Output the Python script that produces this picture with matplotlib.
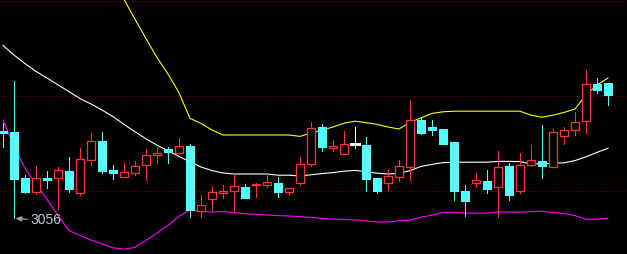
import matplotlib
matplotlib.use("Agg")
import matplotlib.pyplot as plt
from matplotlib.patches import Rectangle
import numpy as np

# daily candles, oldest first
opens = [3099.5, 3099.1, 3076.2, 3069.4, 3076.0, 3076.0, 3079.6, 3068.9, 3085.4, 3094.7,
         3080.0, 3076.8, 3078.6, 3082.6, 3087.8, 3090.7, 3088.8, 3092.3, 3059.8, 3065.6,
         3068.8, 3069.8, 3071.5, 3072.5, 3072.5, 3073.7, 3069.1, 3073.9, 3083.4, 3101.7,
         3091.4, 3088.4, 3093.0, 3092.7, 3076.2, 3073.9, 3076.9, 3081.9, 3105.2, 3101.7,
         3100.7, 3094.2, 3069.7, 3073.9, 3074.7, 3071.6, 3082.2, 3069.9, 3082.9, 3084.6,
         3081.9, 3097.4, 3100.1, 3104.6, 3123.2, 3123.7]
closes = [3098.5, 3075.7, 3069.4, 3076.0, 3075.4, 3080.0, 3070.9, 3085.6, 3094.6, 3079.9,
          3078.5, 3079.1, 3082.1, 3087.6, 3088.5, 3089.4, 3092.2, 3060.2, 3062.6, 3069.1,
          3069.7, 3072.0, 3066.3, 3073.4, 3074.0, 3069.4, 3071.1, 3083.0, 3101.1, 3091.9,
          3092.2, 3093.1, 3093.0, 3075.9, 3069.7, 3077.1, 3082.2, 3105.1, 3098.8, 3100.4,
          3093.4, 3069.9, 3064.8, 3075.1, 3070.9, 3081.6, 3067.9, 3082.7, 3085.1, 3082.4,
          3099.1, 3100.1, 3104.1, 3123.1, 3120.2, 3117.8]
highs = [3103.7, 3124.7, 3077.7, 3082.2, 3079.6, 3081.7, 3086.7, 3091.2, 3098.7, 3099.1,
         3082.7, 3083.7, 3084.7, 3090.7, 3091.9, 3091.7, 3096.2, 3093.2, 3067.6, 3071.5,
         3072.7, 3078.5, 3073.0, 3073.8, 3078.4, 3076.7, 3071.1, 3086.7, 3104.2, 3103.2,
         3095.2, 3099.7, 3101.7, 3096.7, 3076.2, 3080.2, 3085.2, 3115.2, 3106.5, 3105.2,
         3100.7, 3094.2, 3072.7, 3078.7, 3080.2, 3089.7, 3083.7, 3088.7, 3092.7, 3102.7,
         3100.7, 3101.7, 3109.2, 3130.2, 3126.2, 3123.7]
lows = [3091.7, 3056.0, 3068.5, 3068.0, 3071.4, 3060.7, 3069.4, 3067.9, 3082.8, 3078.9,
        3075.8, 3076.6, 3077.9, 3075.4, 3083.8, 3083.8, 3088.8, 3056.6, 3056.6, 3060.2,
        3066.3, 3059.2, 3066.3, 3066.8, 3071.8, 3066.8, 3067.9, 3072.7, 3082.4, 3089.9,
        3089.9, 3088.4, 3091.4, 3069.9, 3068.9, 3070.2, 3074.7, 3075.2, 3098.2, 3097.7,
        3093.4, 3065.2, 3057.4, 3071.9, 3068.9, 3056.6, 3065.2, 3068.9, 3082.4, 3076.4,
        3081.9, 3093.4, 3097.9, 3098.9, 3118.9, 3112.7]

# bollinger bands
upper = [3179.7, 3182.2, 3185.2, 3186.2, 3185.2, 3187.2, 3188.7, 3184.2, 3179.7, 3176.7,
         3171.7, 3165.5, 3155.6, 3145.9, 3136.4, 3128.2, 3118.8, 3106.0, 3103.5, 3100.2,
         3097.7, 3097.7, 3097.7, 3097.7, 3097.7, 3097.7, 3097.7, 3097.0, 3098.7, 3100.1,
         3101.7, 3103.6, 3104.6, 3103.9, 3103.0, 3101.7, 3100.7, 3104.1, 3106.2, 3108.5,
         3109.3, 3109.6, 3109.6, 3109.6, 3109.6, 3109.6, 3109.6, 3109.6, 3107.6, 3106.6,
         3107.6, 3109.0, 3110.7, 3117.7, 3122.7, 3126.2]
mid = [3142.5, 3137.7, 3133.4, 3129.5, 3126.2, 3122.8, 3119.4, 3115.9, 3113.2, 3110.2,
       3106.9, 3103.0, 3099.3, 3095.8, 3092.6, 3089.8, 3087.0, 3084.3, 3081.7, 3079.9,
       3078.7, 3078.2, 3078.2, 3078.2, 3078.2, 3077.6, 3077.6, 3077.2, 3077.8, 3078.4,
       3078.9, 3079.6, 3080.0, 3079.4, 3078.6, 3078.2, 3078.5, 3079.9, 3082.0, 3083.0,
       3083.9, 3084.1, 3084.1, 3084.1, 3084.1, 3084.5, 3084.5, 3084.4, 3083.3, 3083.3,
       3083.6, 3083.8, 3084.9, 3086.8, 3089.0, 3091.1]
lower = [3105.2, 3092.2, 3081.0, 3073.1, 3065.5, 3057.5, 3049.9, 3047.5, 3045.2, 3043.3,
         3041.3, 3040.6, 3041.5, 3045.0, 3048.6, 3052.5, 3057.1, 3060.2, 3059.4, 3059.2,
         3059.4, 3058.9, 3058.3, 3058.0, 3057.7, 3057.4, 3057.2, 3056.9, 3056.5, 3056.0,
         3055.7, 3055.5, 3055.2, 3054.7, 3054.2, 3054.2, 3054.8, 3055.1, 3056.6, 3057.6,
         3059.0, 3059.1, 3058.6, 3058.6, 3058.6, 3059.3, 3059.1, 3059.1, 3059.4, 3059.6,
         3059.0, 3058.4, 3057.4, 3055.6, 3055.6, 3056.1]

grid_levels = [3164.55, 3117.05, 3069.85]

UP = "#ff3333"
DOWN = "#54ffff"
px = 0.72  # one pixel in points at dpi 100

fig = plt.figure(figsize=(6.27, 2.54), dpi=100, facecolor="black")
ax = fig.add_axes([0, 0, 1, 1])
ax.set_facecolor("black")
ax.set_axis_off()

for g in grid_levels:
    ax.axhline(g, color="#8c0000", lw=px, ls=(0, (1, 2)), zorder=1)

x = np.arange(len(opens))
w = 0.8
for i in x:
    o, c, h, l = opens[i], closes[i], highs[i], lows[i]
    top, bot = max(o, c), min(o, c)
    if c > o:
        # hollow red candle
        ax.plot([i, i], [top, h], color=UP, lw=px, zorder=3, antialiased=False)
        ax.plot([i, i], [l, bot], color=UP, lw=px, zorder=3, antialiased=False)
        ax.add_patch(Rectangle((i - w / 2, bot), w, top - bot, facecolor="black",
                               edgecolor=UP, lw=1.3 * px, joinstyle="miter",
                               zorder=3, snap=True))
    elif c < o:
        ax.plot([i, i], [l, h], color=DOWN, lw=px, zorder=3, antialiased=False)
        ax.add_patch(Rectangle((i - w / 2, bot), w, max(top - bot, 0.5), facecolor=DOWN,
                               edgecolor=DOWN, lw=px, joinstyle="miter",
                               zorder=3, antialiased=False))
    else:
        ax.plot([i, i], [l, h], color="white", lw=px, zorder=3, antialiased=False)
        ax.plot([i - w / 2, i + w / 2], [o, o], color="white", lw=1.4 * px, zorder=3,
                antialiased=False)

ax.plot(x, upper, color="#ffff00", lw=1.1 * px, zorder=2)
ax.plot(x, mid, color="white", lw=1.1 * px, zorder=2)
ax.plot(x, lower, color="#ff00ff", lw=1.1 * px, zorder=2)

lo = int(np.argmin(lows))
ax.annotate(f"{lows[lo]:.0f}", xy=(lo, lows[lo]), xytext=(16, -2),
            textcoords="offset pixels", ha="left", va="center",
            color="#c0c8d0", fontsize=10, family="Liberation Sans",
            arrowprops=dict(arrowstyle="-|>,head_length=0.35,head_width=0.15",
                            color="#a0a0a0", lw=1.2 * px, shrinkA=0, shrinkB=1))

ax.set_xlim(-3 / 11, 624 / 11)
ax.set_ylim(3038.2, 3165.2)

fig.savefig("out.png", dpi=100, facecolor="black")
